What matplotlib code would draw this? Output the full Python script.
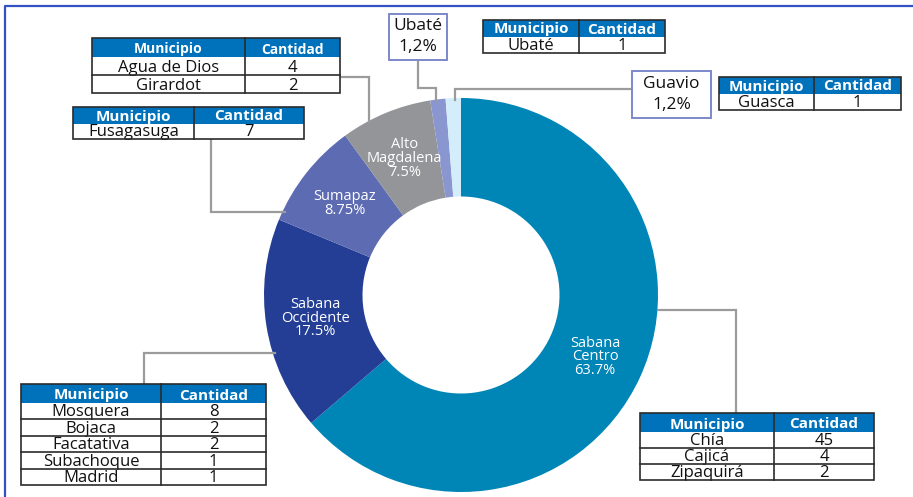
import numpy as np
import matplotlib.pyplot as plt
from matplotlib.patches import Rectangle

# Data
regions = ["Sabana Centro", "Sabana Occidente", "Sumapaz", "Alto Magdalena", "Ubaté", "Guavio"]
region_labels = ["Sabana\nCentro", "Sabana\nOccidente", "Sumapaz", "Alto\nMagdalena", "Ubaté", "Guavio"]
pct_labels = ["63.7%", "17.5%", "8.75%", "7.5%", "1,2%", "1,2%"]
colors = ["#0085B7", "#243E96", "#5D6BB2", "#939598", "#8A96D0", "#D4EDFA"]

centro_munis = ["Chía", "Cajicá", "Zipaquirá"]
centro_vals = [45, 4, 2]
occidente_munis = ["Mosquera", "Bojaca", "Facatativa", "Subachoque", "Madrid"]
occidente_vals = [8, 2, 2, 1, 1]
sumapaz_munis = ["Fusagasuga"]
sumapaz_vals = [7]
magdalena_munis = ["Agua de Dios", "Girardot"]
magdalena_vals = [4, 2]
ubate_munis = ["Ubaté"]
ubate_vals = [1]
guavio_munis = ["Guasca"]
guavio_vals = [1]

counts = [sum(centro_vals), sum(occidente_vals), sum(sumapaz_vals),
          sum(magdalena_vals), sum(ubate_vals), sum(guavio_vals)]

W, H = 913, 497
FONT = "Open Sans"
HEAD_BLUE = "#0072BC"
LINE_GRAY = "#9B9B9B"
EDGE = "#2b2b2b"

fig = plt.figure(figsize=(W / 100, H / 100), dpi=100)

# donut
cx, cy, R = 461, 295, 197
pax = fig.add_axes([(cx - R) / W, (H - cy - R) / H, 2 * R / W, 2 * R / H])
wedges, _ = pax.pie(counts, colors=colors, startangle=90, counterclock=False,
                    radius=1, wedgeprops=dict(width=0.5, edgecolor="none"))
pax.set_xlim(-1, 1)
pax.set_ylim(-1, 1)
pax.axis("off")

for w, name, pct in list(zip(wedges, region_labels, pct_labels))[:4]:
    ang = np.deg2rad((w.theta1 + w.theta2) / 2)
    pax.text(0.75 * np.cos(ang), 0.75 * np.sin(ang), name + "\n" + pct,
             ha="center", va="center", color="white", fontsize=10.5,
             family=FONT, linespacing=0.88)

# overlay in pixel coords
ax = fig.add_axes([0, 0, 1, 1])
ax.set_xlim(0, W)
ax.set_ylim(H, 0)
ax.axis("off")
ax.patch.set_alpha(0)

# outer frame
ax.plot([5, 5, W + 5], [H + 5, 6, 6], color="#3352C2", lw=1.6, clip_on=False)


def draw_table(x0, xs, x1, y0, hh, rh, munis, vals, fh=11, fb=12):
    n = len(munis)
    y1 = y0 + hh + rh * n
    ax.add_patch(Rectangle((x0, y0), x1 - x0, hh, fc=HEAD_BLUE, ec="none", zorder=3))
    ax.add_patch(Rectangle((x0, y0 + hh), x1 - x0, rh * n, fc="white", ec="none", zorder=2))
    ax.add_patch(Rectangle((x0, y0), x1 - x0, y1 - y0, fc="none", ec=EDGE,
                           lw=1.2, zorder=5))
    ax.plot([xs, xs], [y0, y1], color=EDGE, lw=1.2, zorder=5)
    for txt, xm in (("Municipio", (x0 + xs) / 2), ("Cantidad", (xs + x1) / 2)):
        ax.text(xm, y0 + hh - 3.5, txt, ha="center", va="baseline", color="white",
                fontweight="bold", fontsize=fh, family=FONT, zorder=6)
    for i, (m, v) in enumerate(zip(munis, vals)):
        ry = y0 + hh + i * rh
        if i > 0:
            ax.plot([x0, x1], [ry, ry], color=EDGE, lw=1.2, zorder=5)
        ax.text((x0 + xs) / 2, ry + rh - 3, m, ha="center", va="baseline",
                color="#111111", fontsize=fb, family=FONT, zorder=4)
        ax.text((xs + x1) / 2, ry + rh - 3, str(v), ha="center", va="baseline",
                color="#111111", fontsize=fb, family=FONT, zorder=4)


def draw_box(x0, x1, y0, y1, name, pct):
    ax.add_patch(Rectangle((x0, y0), x1 - x0, y1 - y0, fc="white", ec="#7D88CB",
                           lw=1.4, zorder=4))
    ax.text((x0 + x1) / 2, y0 + (y1 - y0) * 0.27, name, ha="center", va="center",
            fontsize=12.5, family=FONT, color="#111111", zorder=6)
    ax.text((x0 + x1) / 2, y0 + (y1 - y0) * 0.72, pct, ha="center", va="center",
            fontsize=12.5, family=FONT, color="#111111", zorder=6)


def connector(xs, ys):
    ax.plot(xs, ys, color=LINE_GRAY, lw=1.6, zorder=1, solid_joinstyle="miter")


# connectors
connector([418, 418, 436, 436], [60, 88, 88, 101])
connector([632, 455, 455], [89, 89, 100])
connector([340, 369, 369], [77, 77, 122])
connector([211, 211, 285], [139, 212, 212])
connector([144, 144, 275], [384, 353, 353])
connector([658, 736, 736], [310, 310, 413])

# tables
draw_table(92, 245, 340, 38, 19, 18, magdalena_munis, magdalena_vals, fh=10)
draw_table(73, 194, 304, 107, 17, 15, sumapaz_munis, sumapaz_vals)
draw_table(483, 579, 665, 20, 17, 16, ubate_munis, ubate_vals)
draw_table(719, 814, 901, 77, 17, 16, guavio_munis, guavio_vals)
draw_table(21, 161, 266, 384, 19, 16.4, occidente_munis, occidente_vals)
draw_table(640, 774, 874, 413, 19, 16, centro_munis, centro_vals)

# label boxes
draw_box(389, 447, 14, 60, regions[4], pct_labels[4])
draw_box(632, 711, 71, 118, regions[5], pct_labels[5])

fig.savefig("out.png", dpi=100)
